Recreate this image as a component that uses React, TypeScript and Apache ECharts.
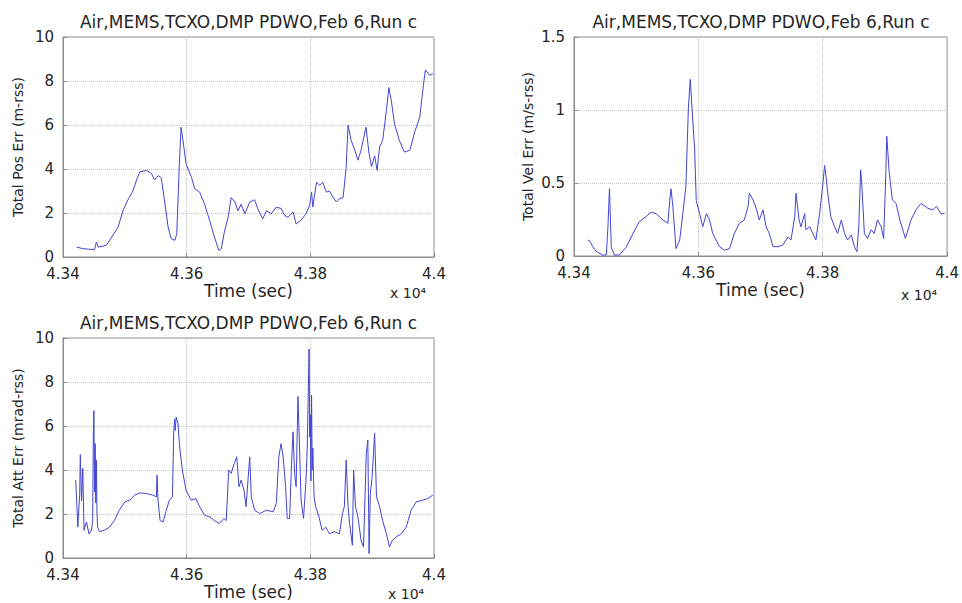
import React, { useEffect, useRef } from "react";
import * as echarts from "echarts";

const chartTitle = "Air,MEMS,TCXO,DMP PDWO,Feb 6,Run c";
const xTicks = { min: 43400, max: 44000, interval: 200 };
const xName = "Time (sec)";
const xScale = "x 10⁴";
const yNames = ["Total Pos Err (m-rss)", "Total Vel Err (m/s-rss)", "Total Att Err (mrad-rss)"];

const posErr: [number, number][] = [
  [43422, 0.45], [43432, 0.38], [43451, 0.33], [43454, 0.68], [43457, 0.45], [43470, 0.53],
  [43481, 1.0], [43489, 1.36], [43497, 2.1], [43505, 2.6], [43513, 3.0], [43519, 3.5],
  [43524, 3.86], [43535, 3.94], [43543, 3.8], [43548, 3.5], [43554, 3.7], [43559, 3.6],
  [43564, 2.6], [43570, 1.36], [43575, 0.83], [43581, 0.76], [43584, 1.06], [43588, 4.1],
  [43591, 5.9], [43594, 5.3], [43599, 4.24], [43608, 3.6], [43613, 3.1], [43621, 2.95],
  [43629, 2.4], [43637, 1.67], [43645, 0.9], [43652, 0.3], [43656, 0.38], [43661, 1.14],
  [43667, 1.8], [43672, 2.7], [43678, 2.5], [43683, 2.1], [43688, 2.4], [43694, 1.97],
  [43702, 2.5], [43710, 2.6], [43715, 2.2], [43723, 1.74], [43729, 2.1], [43737, 1.97],
  [43745, 2.27], [43753, 2.2], [43758, 1.9], [43764, 1.8], [43772, 2.05], [43777, 1.5],
  [43785, 1.67], [43793, 1.97], [43799, 2.35], [43802, 2.95], [43804, 2.27], [43810, 3.4],
  [43815, 3.26], [43820, 3.4], [43826, 2.95], [43831, 3.0], [43837, 2.7], [43842, 2.5],
  [43847, 2.65], [43853, 2.7], [43858, 4.1], [43861, 6.0], [43866, 5.3], [43872, 4.85],
  [43877, 4.4], [43882, 4.85], [43890, 5.9], [43895, 4.7], [43899, 4.1], [43904, 4.6],
  [43908, 3.94], [43912, 5.0], [43917, 5.3], [43923, 6.67], [43927, 7.7], [43931, 7.1],
  [43936, 6.06], [43944, 5.3], [43952, 4.77], [43961, 4.85], [43969, 5.7], [43977, 6.36],
  [43982, 7.6], [43986, 8.5], [43993, 8.26], [43998, 8.33],
];

const velErr: [number, number][] = [
  [43422, 0.11], [43426, 0.1], [43430, 0.064], [43436, 0.03], [43446, 0.007], [43452, 0.007],
  [43454.6, 0.2], [43457, 0.46], [43460, 0.06], [43465, 0.007], [43473, 0.007], [43484, 0.06],
  [43495, 0.155], [43505, 0.235], [43516, 0.27], [43524, 0.3], [43532, 0.29], [43543, 0.247],
  [43551, 0.224], [43554, 0.384], [43556, 0.46], [43559, 0.34], [43564, 0.05], [43570, 0.11],
  [43575, 0.29], [43580, 0.48], [43584, 1.02], [43587, 1.21], [43590, 1.0], [43594, 0.73],
  [43596.6, 0.38], [43602, 0.29], [43607, 0.2], [43613, 0.29], [43618, 0.247], [43623, 0.155],
  [43634, 0.064], [43642, 0.04], [43650, 0.05], [43658, 0.155], [43666, 0.224], [43674, 0.247],
  [43680, 0.34], [43682, 0.43], [43688, 0.384], [43693, 0.327], [43698, 0.247], [43704, 0.316],
  [43709, 0.2], [43714, 0.155], [43720, 0.064], [43728, 0.064], [43736, 0.075], [43744, 0.13],
  [43749, 0.11], [43755, 0.27], [43757, 0.43], [43762, 0.247], [43765, 0.2], [43771, 0.29],
  [43773, 0.18], [43779, 0.2], [43784, 0.155], [43789, 0.11], [43795, 0.29], [43800, 0.48],
  [43803, 0.62], [43805.5, 0.54], [43808, 0.43], [43813, 0.27], [43819, 0.2], [43824, 0.155],
  [43830, 0.247], [43835, 0.155], [43840, 0.11], [43846, 0.144], [43851, 0.064], [43855, 0.03],
  [43858, 0.2], [43861, 0.59], [43863, 0.48], [43867, 0.155], [43872, 0.12], [43878, 0.18],
  [43883, 0.155], [43888, 0.247], [43894, 0.2], [43898, 0.12], [43901, 0.5], [43903, 0.82],
  [43907, 0.57], [43912, 0.384], [43918, 0.36], [43924, 0.247], [43933, 0.12], [43942, 0.247],
  [43950, 0.316], [43958, 0.36], [43969, 0.327], [43977, 0.316], [43983, 0.34], [43990, 0.29],
  [43996, 0.29],
];

const attErr: [number, number][] = [
  [43420.5, 3.54], [43422.6, 2.3], [43424, 1.4], [43427, 2.9], [43428, 4.7], [43430, 2.6],
  [43432, 4.07], [43434, 1.26], [43438, 1.64], [43442, 1.1], [43446, 1.26], [43448, 1.7],
  [43449, 5.5], [43450, 6.7], [43451, 3.0], [43452, 5.2], [43453, 2.5], [43454, 4.45],
  [43455, 2.0], [43456, 1.4], [43459, 1.2], [43467, 1.26], [43475, 1.4], [43483, 1.7],
  [43491, 2.17], [43500, 2.55], [43508, 2.63], [43516, 2.86], [43524, 2.96], [43535, 2.93],
  [43545, 2.86], [43551, 2.78], [43552, 3.77], [43553.6, 2.63], [43557, 1.7], [43562, 1.64],
  [43567, 2.17], [43572, 2.63], [43577, 2.78], [43579, 5.67], [43580.5, 6.3], [43581.6, 5.8],
  [43583, 6.4], [43586, 6.12], [43588.6, 5.06], [43593, 4.0], [43599, 3.08], [43607, 2.63],
  [43615, 2.7], [43621, 2.33], [43629, 1.94], [43637, 1.87], [43645, 1.7], [43653, 1.57],
  [43660, 1.8], [43664, 1.7], [43668, 4.0], [43672, 3.85], [43677, 4.3], [43681, 4.6],
  [43684.6, 3.24], [43688, 3.54], [43692.7, 3.08], [43696, 2.33], [43702, 4.6], [43704.5, 2.78],
  [43710, 2.17], [43718, 2.02], [43729, 2.17], [43740, 2.1], [43745, 2.48], [43749, 4.6],
  [43752.7, 5.2], [43756, 4.6], [43760, 3.24], [43762.6, 1.8], [43766.5, 1.8], [43769, 3.85],
  [43772, 5.74], [43774.6, 3.85], [43777, 3.24], [43780, 7.34], [43782.7, 4.9], [43785, 2.63],
  [43789, 1.8], [43793, 3.54], [43795, 5.0], [43797, 8.0], [43798, 9.5], [43799, 5.5],
  [43800, 6.5], [43801, 3.5], [43802, 7.4], [43803, 4.0], [43804, 5.0], [43806, 2.8],
  [43808.6, 2.33], [43814, 1.87], [43819, 1.26], [43825, 1.4], [43831, 1.1], [43839, 1.2],
  [43847, 1.1], [43852, 2.02], [43855, 2.33], [43858, 4.45], [43861, 2.33], [43863.5, 1.57],
  [43868, 0.58], [43870, 4.0], [43873, 2.33], [43877, 1.87], [43882, 0.8], [43886, 0.5],
  [43890.5, 4.75], [43893, 5.36], [43895, 0.2], [43897, 2.93], [43900, 3.7], [43904, 5.67],
  [43907, 2.78], [43912, 2.33], [43917, 1.7], [43923, 1.1], [43928, 0.5], [43932.5, 0.8],
  [43939, 0.96], [43947, 1.1], [43955, 1.4], [43963, 2.17], [43971, 2.55], [43982, 2.63],
  [43990, 2.7], [43998, 2.86],
];

const yRanges = [
  { min: 0, max: 10, interval: 2 },
  { min: 0, max: 1.5, interval: 0.5 },
  { min: 0, max: 10, interval: 2 },
];

const FONT = "DejaVu Sans";
const TEXT = "#262626";
const LINE = "#4444d4";

const grids = [
  { left: 63, top: 37, width: 371, height: 220 },
  { left: 574, top: 37, width: 374, height: 219 },
  { left: 63, top: 338, width: 371, height: 220 },
];

export default function App() {
  const ref = useRef<HTMLDivElement>(null);
  useEffect(() => {
    if (!ref.current) return;
    const chart = echarts.init(ref.current, null, { renderer: "svg" });
    const datasets = [posErr, velErr, attErr];
    const option: any = {
      animation: false,
      backgroundColor: "#ffffff",
      title: grids.map((g) => ({
        text: chartTitle,
        left: g.left + g.width / 2,
        top: g.top - 24,
        textAlign: "center",
        padding: 0,
        textStyle: { fontFamily: FONT, fontSize: 17, fontWeight: "normal", color: TEXT },
      })),
      grid: grids.map((g) => ({
        ...g,
        show: true,
        borderColor: "#8c8c8c",
        borderWidth: 1,
        backgroundColor: "transparent",
        containLabel: false,
      })),
      xAxis: grids.map((_, i) => ({
        type: "value",
        gridIndex: i,
        min: xTicks.min,
        max: xTicks.max,
        interval: xTicks.interval,
        name: xName,
        nameLocation: "middle",
        nameGap: 25,
        nameTextStyle: { fontFamily: FONT, fontSize: 17, color: TEXT },
        axisLine: { show: true, lineStyle: { color: "#8c8c8c" } },
        axisTick: { show: true, inside: true, length: 4, lineStyle: { color: "#8c8c8c" } },
        axisLabel: {
          margin: 9,
          fontFamily: FONT,
          fontSize: 15,
          color: TEXT,
          formatter: (v: number) => String(v / 10000),
        },
        splitLine: { show: true, lineStyle: { color: "#c4c4c4", type: "dotted", width: 1 } },
      })),
      yAxis: grids.map((_, i) => ({
        type: "value",
        gridIndex: i,
        min: yRanges[i].min,
        max: yRanges[i].max,
        interval: yRanges[i].interval,
        name: yNames[i],
        nameLocation: "middle",
        nameGap: i === 1 ? 39 : 38,
        nameTextStyle: { fontFamily: FONT, fontSize: 14, color: TEXT },
        axisLine: { show: true, lineStyle: { color: "#8c8c8c" } },
        axisTick: { show: true, inside: true, length: 4, lineStyle: { color: "#8c8c8c" } },
        axisLabel: { margin: 9, fontFamily: FONT, fontSize: 15, color: TEXT, padding: [0, 0, 5, 0] },
        splitLine: { show: true, lineStyle: { color: "#c4c4c4", type: "dotted", width: 1 } },
      })),
      series: datasets.map((d, i) => ({
        type: "line",
        xAxisIndex: i,
        yAxisIndex: i,
        data: d,
        symbol: "none",
        showSymbol: false,
        lineStyle: { color: LINE, width: 1 },
      })),
      graphic: [
        { type: "text", left: 390, top: 286, style: { text: xScale, font: `14px "${FONT}"`, fill: TEXT } },
        { type: "text", left: 901, top: 288, style: { text: xScale, font: `14px "${FONT}"`, fill: TEXT } },
        { type: "text", left: 388, top: 587, style: { text: xScale, font: `14px "${FONT}"`, fill: TEXT } },
      ],
    };
    chart.setOption(option);
    return () => chart.dispose();
  }, []);
  return (
    <div
      ref={ref}
      style={{ position: "absolute", left: 0, top: 0, width: 962, height: 603 }}
    />
  );
}
